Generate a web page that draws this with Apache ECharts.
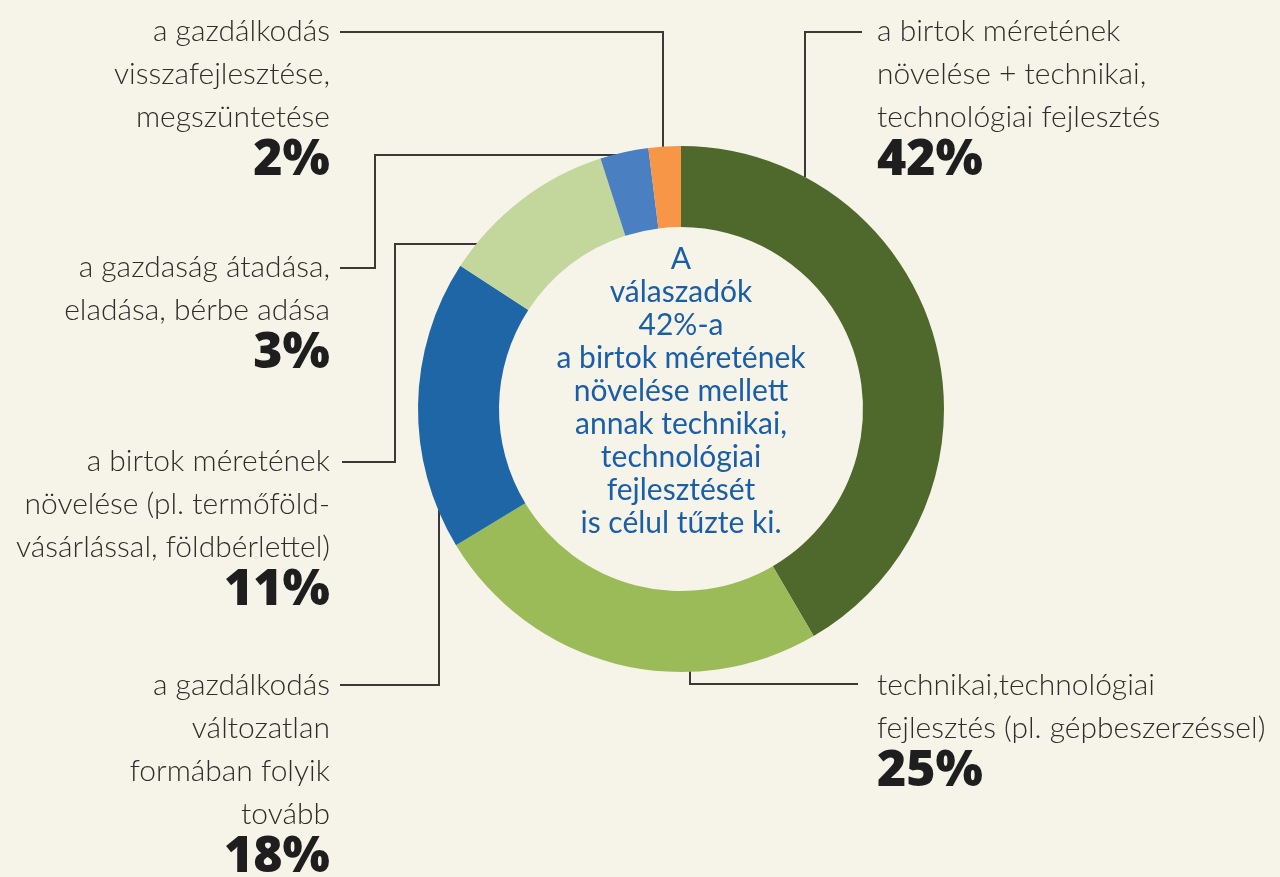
<!DOCTYPE html>
<html>
<head>
<meta charset="utf-8">
<script src="https://cdn.jsdelivr.net/npm/echarts@6/dist/echarts.min.js"></script>
<style>
  html, body { margin: 0; padding: 0; background: #f6f4e9; }
  #chart { width: 1280px; height: 877px; }
</style>
</head>
<body>
<div id="chart"></div>
<script>
  // slices, clockwise from 12 o'clock
  var categories = [
    'a birtok méretének\nnövelése + technikai,\ntechnológiai fejlesztés',
    'technikai,technológiai\nfejlesztés (pl. gépbeszerzéssel)',
    'a gazdálkodás\nváltozatlan\nformában folyik\ntovább',
    'a birtok méretének\nnövelése (pl. termőföld-\nvásárlással, földbérlettel)',
    'a gazdaság átadása,\neladása, bérbe adása',
    'a gazdálkodás\nvisszafejlesztése,\nmegszüntetése'
  ];
  var values = [42, 25, 18, 11, 3, 2];
  var centerText = 'A\nválaszadók\n42%-a\na birtok méretének\nnövelése mellett\nannak technikai,\ntechnológiai\nfejlesztését\nis célul tűzte ki.';

  var colors = ['#4f682b', '#9bbb59', '#1f66a6', '#c3d69b', '#4a7fc1', '#f79646'];

  // where each label sits and how its leader line runs (pixels)
  var labelPos = [
    { x: 877, y: 10, align: 'left', line: [[805, 177], [805, 32], [862, 32]] },
    { x: 877, y: 664, align: 'left', line: [[690, 671], [690, 684], [858, 684]] },
    { x: 330, y: 664, align: 'right', line: [[439, 510], [439, 685], [340, 685]] },
    { x: 330, y: 440, align: 'right', line: [[477, 244], [395, 244], [395, 462], [342, 462]] },
    { x: 330, y: 246, align: 'right', line: [[617, 155], [375, 155], [375, 268], [340, 268]] },
    { x: 330, y: 10, align: 'right', line: [[663, 147], [663, 32], [340, 32]] }
  ];

  var chart = echarts.init(document.getElementById('chart'));

  var data = [];
  for (var i = 0; i < values.length; i++) {
    data.push({
      name: categories[i],
      value: values[i],
      itemStyle: { color: colors[i] },
      label: { align: labelPos[i].align }
    });
  }

  var option = {
    backgroundColor: '#f6f4e9',
    animation: false,
    series: [{
      type: 'pie',
      center: [681, 409],
      radius: [182, 263],
      startAngle: 90,
      clockwise: true,
      avoidLabelOverlap: false,
      silent: true,
      data: data,
      label: {
        show: true,
        position: 'outside',
        formatter: function (p) {
          return '{t|' + p.name.split('\n').join('}\n{t|') + '}\n{p|' + p.value + '%}';
        },
        rich: {
          t: { fontFamily: 'Lato', fontWeight: 300, fontSize: 30, lineHeight: 43, color: '#2e2d2b' },
          p: { fontFamily: 'Open Sans', fontWeight: 800, fontSize: 50, lineHeight: 44, color: '#1e1e1e' }
        }
      },
      labelLine: {
        show: true,
        lineStyle: { color: '#3b3936', width: 2 }
      },
      labelLayout: function (params) {
        var l = labelPos[params.dataIndex];
        return {
          x: l.x,
          y: l.y,
          align: l.align,
          verticalAlign: 'top',
          labelLinePoints: l.line
        };
      }
    }],
    graphic: [{
      type: 'text',
      x: 681,
      y: 243,
      silent: true,
      style: {
        text: centerText,
        fill: '#1b5ea8',
        font: '400 30px Lato',
        align: 'center',
        verticalAlign: 'top',
        lineHeight: 33
      }
    }]
  };

  chart.setOption(option);
</script>
</body>
</html>
